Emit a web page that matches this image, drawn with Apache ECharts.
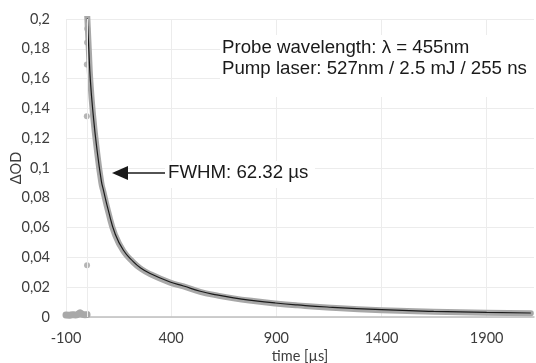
<!DOCTYPE html>
<html>
<head>
<meta charset="utf-8">
<script src="https://cdn.jsdelivr.net/npm/echarts@6/dist/echarts.min.js"></script>
<style>html,body{margin:0;padding:0;background:#fff}#c{width:536px;height:363px}</style>
</head>
<body>
<div id="c"></div>
<script>
// ---- data ----
var xTickLabels = ['-100', '400', '900', '1400', '1900'];
var yTickLabels = ['0', '0,02', '0,04', '0,06', '0,08', '0,1', '0,12', '0,14', '0,16', '0,18', '0,2'];

// pre-trigger baseline (measured points, gray)
var baselineT = [-100, -85, -70, -55, -45, -33, -22, -10, 0];
var baselineV = [0.0013, 0.0012, 0.0015, 0.0014, 0.0017, 0.0028, 0.0018, 0.0015, 0.0016];

// isolated measured points at the trigger
var outlierT = [0, -1, -1, 0, 1];
var outlierV = [0.0348, 0.1347, 0.1695, 0.1843, 0.1935];

// measured decay (gray band)
var bandT = [0, 8, 16, 29, 46, 68, 78, 101, 133, 173, 221, 252, 300, 395, 459, 538, 617, 697, 792, 895, 1000, 1141, 1400, 1648, 1900, 2110];
var bandV = [0.205, 0.181, 0.158, 0.135, 0.113, 0.090, 0.084, 0.0705, 0.0552, 0.0442, 0.0365, 0.0328, 0.0288, 0.0231, 0.0205, 0.0169, 0.0145, 0.0125, 0.0107, 0.0091, 0.0078, 0.0064, 0.0046, 0.0036, 0.0028, 0.0025];

// fit curve (black)
var fitT = [0, 8, 16, 29, 46, 68, 78, 101, 133, 173, 221, 252, 300, 395, 459, 538, 617, 697, 792, 895, 1000, 1141, 1400, 1648, 1900, 2110];
var fitV = [0.205, 0.181, 0.1585, 0.1362, 0.1138, 0.0914, 0.0851, 0.0717, 0.056, 0.0448, 0.037, 0.0332, 0.0292, 0.0235, 0.0208, 0.0173, 0.0148, 0.0128, 0.011, 0.0094, 0.0081, 0.0067, 0.0049, 0.0038, 0.0031, 0.0027];

function pairs(t, v) { return t.map(function (x, i) { return [x, v[i]]; }); }

var gray = '#a8a8a8';
var gridColor = '#ececec';
var labelColor = '#3d3d3d';
var tickFont = 'Lato, "Open Sans", sans-serif';
var annFont = '"Liberation Sans", Arial, sans-serif';

var chart = echarts.init(document.getElementById('c'), null, {renderer: 'canvas'});
chart.setOption({
  animation: false,
  backgroundColor: '#ffffff',
  grid: {left: 66, right: 2, top: 19, bottom: 46, containLabel: false, outerBoundsMode: 'none'},
  xAxis: {
    type: 'value',
    min: -100, max: 2125, interval: 500,
    axisLine: {show: true, lineStyle: {color: '#bfbfbf', width: 1.5}},
    axisTick: {show: false},
    splitLine: {show: true, showMaxLine: false, lineStyle: {color: gridColor, width: 1}},
    axisLabel: {
      showMaxLabel: false, margin: 14, color: labelColor, fontFamily: tickFont, fontSize: 14.5,
      formatter: function (v) { var i = Math.round((v + 100) / 500); return xTickLabels[i] !== undefined ? xTickLabels[i] : ''; }
    },
    name: 'time [µs]', nameLocation: 'middle', nameGap: 32, nameMoveOverlap: false,
    nameTextStyle: {color: labelColor, fontFamily: tickFont, fontSize: 14.5}
  },
  yAxis: {
    type: 'value',
    min: 0, max: 0.2, interval: 0.02,
    axisLine: {show: false},
    axisTick: {show: false},
    splitLine: {show: true, lineStyle: {color: gridColor, width: 1}},
    axisLabel: {
      margin: 16, color: labelColor, fontFamily: tickFont, fontSize: 14.5,
      formatter: function (v) { var i = Math.round(v / 0.02); return yTickLabels[i] !== undefined ? yTickLabels[i] : ''; }
    },
    name: 'ΔOD', nameLocation: 'middle', nameGap: 42, nameRotate: 90, nameMoveOverlap: false,
    nameTextStyle: {color: labelColor, fontFamily: tickFont, fontSize: 14.5}
  },
  series: [
    {
      type: 'line', name: 'baseline', z: 2,
      data: pairs(baselineT, baselineV),
      showSymbol: false, smooth: 0.3,
      lineStyle: {color: gray, width: 7, cap: 'round', join: 'round'},
      markLine: {
        silent: true, symbol: ['none', 'none'], label: {show: false},
        lineStyle: {color: gridColor, width: 1, type: 'solid'},
        data: [{xAxis: 0}]
      }
    },
    {
      type: 'line', name: 'band', z: 3,
      data: pairs(bandT, bandV),
      showSymbol: false, smooth: 0.5,
      lineStyle: {color: gray, width: 6, cap: 'round', join: 'round'}
    },
    {
      type: 'scatter', name: 'outliers', z: 3,
      data: pairs(outlierT, outlierV),
      symbolSize: 6, itemStyle: {color: '#a3a3a3'}
    },
    {
      type: 'line', name: 'fit', z: 4,
      data: pairs(fitT, fitV),
      showSymbol: false, smooth: 0.5,
      lineStyle: {color: '#1a1a1a', width: 1.2}
    }
  ],
  graphic: [
    {type: 'rect', z: 10, shape: {x: 220, y: 35, width: 316, height: 62}, style: {fill: '#ffffff'}},
    {type: 'text', z: 11, x: 222, y: 37,
     style: {text: 'Probe wavelength: λ = 455nm\nPump laser: 527nm / 2.5 mJ / 255 ns', font: '18.67px ' + annFont, fill: '#1a1a1a', lineHeight: 21}},
    {type: 'rect', z: 10, shape: {x: 165, y: 161, width: 150, height: 27}, style: {fill: '#ffffff'}},
    {type: 'text', z: 11, x: 168, y: 173,
     style: {text: 'FWHM: 62.32 µs', font: '18.67px ' + annFont, fill: '#1a1a1a', verticalAlign: 'middle'}},
    {type: 'line', z: 11, shape: {x1: 126, y1: 173, x2: 165, y2: 173}, style: {stroke: '#1a1a1a', lineWidth: 1.3}},
    {type: 'polygon', z: 11, shape: {points: [[112, 173], [128, 166], [128, 180]]}, style: {fill: '#1a1a1a'}}
  ]
});
</script>
</body>
</html>
